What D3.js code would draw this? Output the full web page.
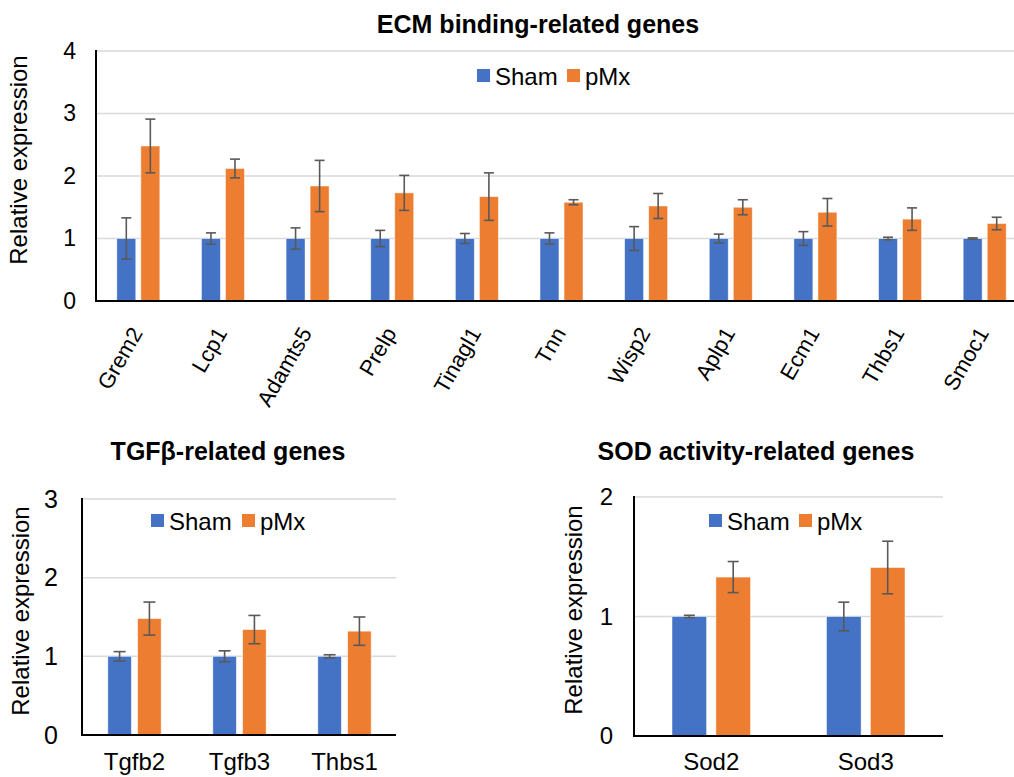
<!DOCTYPE html>
<html>
<head>
<meta charset="utf-8">
<script src="https://cdn.jsdelivr.net/npm/d3@7"></script>
<style>
  html, body { margin: 0; padding: 0; background: #fff; }
  svg { display: block; font-family: "Liberation Sans", Arial, sans-serif; }
</style>
</head>
<body>
<svg id="chart" width="1014" height="777"></svg>
<script>
// ---------- Data ----------
const seriesNames = ["Sham", "pMx"];

const ecmGenes = ["Grem2", "Lcp1", "Adamts5", "Prelp", "Tinagl1", "Tnn", "Wisp2", "Aplp1", "Ecm1", "Thbs1", "Smoc1"];
const ecmSham = [1, 1, 1, 1, 1, 1, 1, 1, 1, 1, 1];
const ecmShamErr = [0.33, 0.09, 0.17, 0.13, 0.08, 0.09, 0.19, 0.07, 0.11, 0.02, 0.01];
const ecmPMx = [2.48, 2.12, 1.84, 1.73, 1.67, 1.58, 1.52, 1.50, 1.42, 1.31, 1.24];
const ecmPMxErr = [0.43, 0.15, 0.41, 0.28, 0.38, 0.04, 0.20, 0.12, 0.22, 0.18, 0.10];
const ecmTicks = [0, 1, 2, 3, 4];

const tgfGenes = ["Tgfb2", "Tgfb3", "Thbs1"];
const tgfSham = [1, 1, 1];
const tgfShamErr = [0.06, 0.07, 0.02];
const tgfPMx = [1.48, 1.34, 1.32];
const tgfPMxErr = [0.21, 0.18, 0.18];
const tgfTicks = [0, 1, 2, 3];

const sodGenes = ["Sod2", "Sod3"];
const sodSham = [1, 1];
const sodShamErr = [0.01, 0.12];
const sodPMx = [1.33, 1.41];
const sodPMxErr = [0.13, 0.22];
const sodTicks = [0, 1, 2];

const titles = ["ECM binding-related genes", "TGFβ-related genes", "SOD activity-related genes"];
const yTitle = "Relative expression";

// ---------- Style ----------
const colors = { Sham: "#4472C4", pMx: "#ED7D31" };
const gridColor = "#D9D9D9";
const errColor = "#595959";

const svg = d3.select("#chart");

function panel(cfg) {
  const { genes, sham, shamErr, pmx, pmxErr, ticks, title } = cfg;
  const g = svg.append("g");

  const x = d3.scaleBand().domain(genes).range([cfg.x0, cfg.x1]).padding(0);
  const y = d3.scaleLinear().domain([0, d3.max(ticks)]).range([cfg.yBase, cfg.yTop]);
  const bw = x.bandwidth();
  const barW = bw * 0.224;
  const gap = bw * 0.06;

  // gridlines
  g.append("g").selectAll("line").data(ticks.filter(t => t > 0)).join("line")
    .attr("x1", cfg.x0).attr("x2", cfg.gridEnd)
    .attr("y1", d => y(d)).attr("y2", d => y(d))
    .attr("stroke", gridColor).attr("stroke-width", 1.5);

  // bars
  const rows = genes.map((gname, i) => ({
    gene: gname,
    vals: [
      { s: "Sham", v: sham[i], e: shamErr[i], x: x(gname) + bw / 2 - gap / 2 - barW },
      { s: "pMx", v: pmx[i], e: pmxErr[i], x: x(gname) + bw / 2 + gap / 2 }
    ]
  }));
  const flat = rows.flatMap(r => r.vals);

  g.append("g").selectAll("rect").data(flat).join("rect")
    .attr("x", d => d.x).attr("width", barW)
    .attr("y", d => y(d.v)).attr("height", d => y(0) - y(d.v))
    .attr("fill", d => colors[d.s])
    .attr("stroke", "#fff").attr("stroke-opacity", 0.6).attr("stroke-width", 0.8);

  // error bars
  const eg = g.append("g").attr("stroke", errColor).attr("stroke-width", 1.6).attr("fill", "none");
  const cap = cfg.cap;
  flat.forEach(d => {
    const cx = d.x + barW / 2;
    eg.append("line").attr("x1", cx).attr("x2", cx).attr("y1", y(d.v + d.e)).attr("y2", y(d.v - d.e));
    eg.append("line").attr("x1", cx - cap / 2).attr("x2", cx + cap / 2).attr("y1", y(d.v + d.e)).attr("y2", y(d.v + d.e));
    eg.append("line").attr("x1", cx - cap / 2).attr("x2", cx + cap / 2).attr("y1", y(d.v - d.e)).attr("y2", y(d.v - d.e));
  });

  // axes lines
  g.append("line").attr("x1", cfg.x0).attr("x2", cfg.x0).attr("y1", y(d3.max(ticks)) - 1).attr("y2", y(0) + 1)
    .attr("stroke", "#000").attr("stroke-width", 2);
  g.append("line").attr("x1", cfg.x0 - 1).attr("x2", cfg.gridEnd).attr("y1", y(0)).attr("y2", y(0))
    .attr("stroke", "#000").attr("stroke-width", 2.2);

  // y axis labels
  const ya = d3.axisLeft(y).tickValues(ticks).tickSize(0).tickPadding(cfg.tickPad).tickFormat(d3.format("d"));
  const yg = g.append("g").attr("transform", `translate(${cfg.x0},0)`).call(ya);
  yg.select(".domain").remove();
  yg.attr("font-size", null).attr("font-family", null);
  yg.selectAll("text").attr("font-size", cfg.tickFont).attr("fill", "#000");

  // x axis labels
  const xa = d3.axisBottom(x).tickSize(0).tickPadding(0);
  const xg = g.append("g").attr("transform", `translate(0,${y(0)})`).call(xa);
  xg.select(".domain").remove();
  xg.attr("font-size", null).attr("font-family", null);
  xg.selectAll("text").attr("font-size", cfg.xFont).attr("fill", "#000");
  if (cfg.rotate) {
    xg.selectAll(".tick text")
      .attr("text-anchor", "end")
      .attr("dy", null)
      .attr("y", 0)
      .attr("transform", `translate(5,${cfg.xLabelY}) rotate(-60)`);
  } else {
    xg.selectAll(".tick text").attr("dy", null).attr("y", cfg.xLabelY);
  }

  // y title
  g.append("text")
    .attr("transform", `translate(${cfg.yTitleX},${cfg.yTitleY}) rotate(-90)`)
    .attr("text-anchor", "middle").attr("font-size", 24).attr("fill", "#000")
    .text(yTitle);

  // chart title
  g.append("text").attr("x", cfg.titleX).attr("y", cfg.titleY)
    .attr("text-anchor", "middle").attr("font-size", 25).attr("font-weight", "bold").attr("fill", "#000")
    .text(title);

  // legend
  const lg = g.append("g");
  seriesNames.forEach((s, i) => {
    const lx = cfg.legend[i];
    lg.append("rect").attr("x", lx).attr("y", cfg.legendY).attr("width", 13).attr("height", 13).attr("fill", colors[s]);
    lg.append("text").attr("x", lx + 18).attr("y", cfg.legendY + 16).attr("font-size", 24).attr("fill", "#000").text(s);
  });
}

panel({
  genes: ecmGenes, sham: ecmSham, shamErr: ecmShamErr, pmx: ecmPMx, pmxErr: ecmPMxErr, ticks: ecmTicks,
  title: titles[0],
  x0: 96, x1: 1027, yBase: 301, yTop: 51, gridEnd: 1014, cap: 10,
  tickPad: 20, tickFont: 23, rotate: true, xLabelY: 32, xFont: 22,
  yTitleX: 27, yTitleY: 160, titleX: 538, titleY: 33,
  legend: [477, 567], legendY: 69
});

panel({
  genes: tgfGenes, sham: tgfSham, shamErr: tgfShamErr, pmx: tgfPMx, pmxErr: tgfPMxErr, ticks: tgfTicks,
  title: titles[1],
  x0: 82, x1: 397, yBase: 735, yTop: 499, gridEnd: 396, cap: 12,
  tickPad: 24, tickFont: 25, rotate: false, xLabelY: 35, xFont: 24,
  yTitleX: 29, yTitleY: 611, titleX: 228, titleY: 460,
  legend: [151, 242], legendY: 514
});

panel({
  genes: sodGenes, sham: sodSham, shamErr: sodShamErr, pmx: sodPMx, pmxErr: sodPMxErr, ticks: sodTicks,
  title: titles[2],
  x0: 634, x1: 943, yBase: 736, yTop: 497, gridEnd: 943, cap: 11,
  tickPad: 21, tickFont: 24, rotate: false, xLabelY: 34, xFont: 24,
  yTitleX: 582, yTitleY: 610, titleX: 756, titleY: 460,
  legend: [709, 799], legendY: 514
});
</script>
</body>
</html>
